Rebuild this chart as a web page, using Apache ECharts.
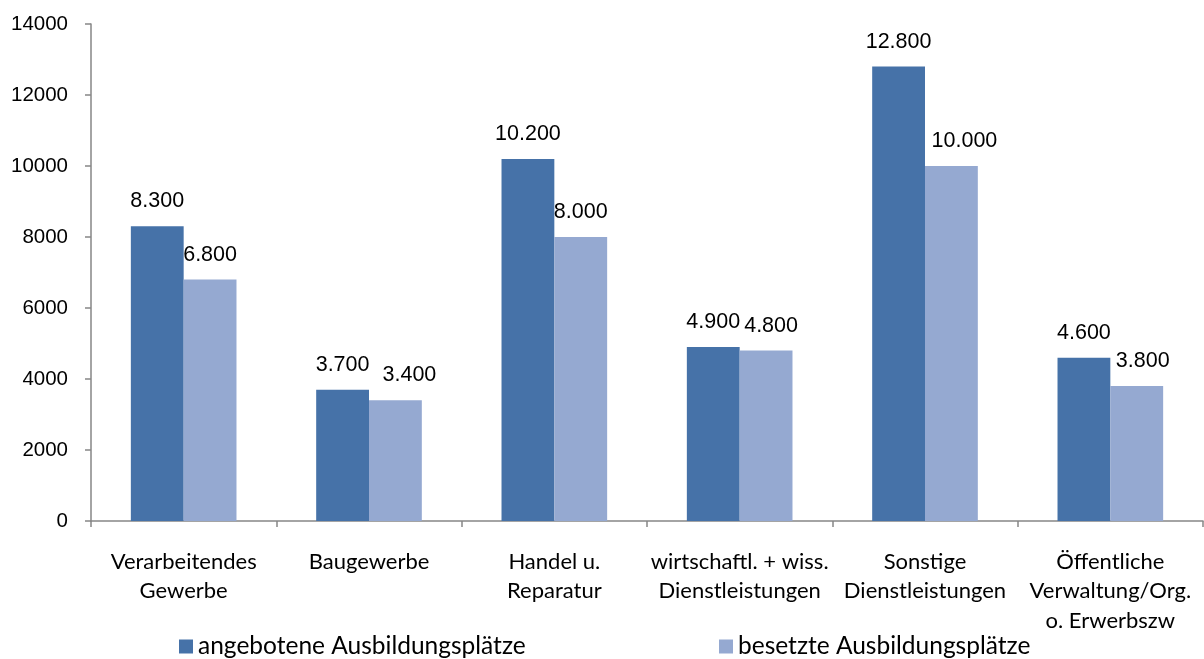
<!DOCTYPE html>
<html><head><meta charset="utf-8">
<script src="https://cdn.jsdelivr.net/npm/echarts@6/dist/echarts.min.js"></script>
<style>html,body{margin:0;padding:0;background:#fff}#c{width:1204px;height:659px}</style>
</head><body><div id="c"></div>
<script>
const categories = ["Verarbeitendes\nGewerbe","Baugewerbe","Handel u.\nReparatur","wirtschaftl. + wiss.\nDienstleistungen","Sonstige\nDienstleistungen","Öffentliche\nVerwaltung/Org.\no. Erwerbszw"];
const seriesNames = ["angebotene Ausbildungsplätze","besetzte Ausbildungsplätze"];
const angeboten = [8300,3700,10200,4900,12800,4600];
const besetzt = [6800,3400,8000,4800,10000,3800];
const yTicks = [0,2000,4000,6000,8000,10000,12000,14000];

// horizontal nudges of the second series' value labels (style only)
const besetztLabelShift = [0,14,0,5,13,6];

const fmt = v => String(v).replace(/\B(?=(\d{3})+(?!\d))/g, ".");
const chart = echarts.init(document.getElementById('c'), null, {renderer:'canvas'});
const lbl = {show:true, position:'top', distance:14, color:'#000', fontFamily:'Liberation Sans, Arial', fontSize:21.5, formatter:p=>fmt(p.value)};
const legText = {fontFamily:'Lato, Open Sans',fontSize:24.5,color:'#000'};
chart.setOption({
  animation:false,
  grid:{left:91,right:1,top:24,bottom:138,containLabel:false},
  legend:[
    {data:[seriesNames[0]],left:179,top:634,padding:0,itemWidth:14,itemHeight:14,itemGap:8,icon:'rect',textStyle:legText},
    {data:[seriesNames[1]],left:719,top:634,padding:0,itemWidth:14,itemHeight:14,itemGap:8,icon:'rect',textStyle:legText}
  ],
  xAxis:{type:'category',data:categories,
    axisLine:{lineStyle:{color:'#868686',width:1.5}},
    axisTick:{show:true,length:6,lineStyle:{color:'#868686',width:1.5}},
    axisLabel:{interval:0,margin:26,color:'#000',fontFamily:'Lato, Open Sans',fontSize:22,lineHeight:29.5}},
  yAxis:{type:'value',min:0,max:14000,interval:2000,
    axisLine:{show:true,lineStyle:{color:'#868686',width:1.5}},
    axisTick:{show:true,length:6,lineStyle:{color:'#868686',width:1.5}},
    splitLine:{show:false},
    axisLabel:{margin:23,color:'#000',fontFamily:'Liberation Sans, Arial',fontSize:20.5,
      formatter:v=>yTicks.includes(v)?String(v):''}},
  series:[
    {name:seriesNames[0],type:'bar',data:angeboten,barGap:'0%',barCategoryGap:'43%',itemStyle:{color:'#4672A8'},label:lbl},
    {name:seriesNames[1],type:'bar',
      data:besetzt.map((v,i)=>({value:v,label:{offset:[besetztLabelShift[i],0]}})),
      barGap:'0%',barCategoryGap:'43%',itemStyle:{color:'#95A9D1'},label:lbl}
  ]
});
</script></body></html>
